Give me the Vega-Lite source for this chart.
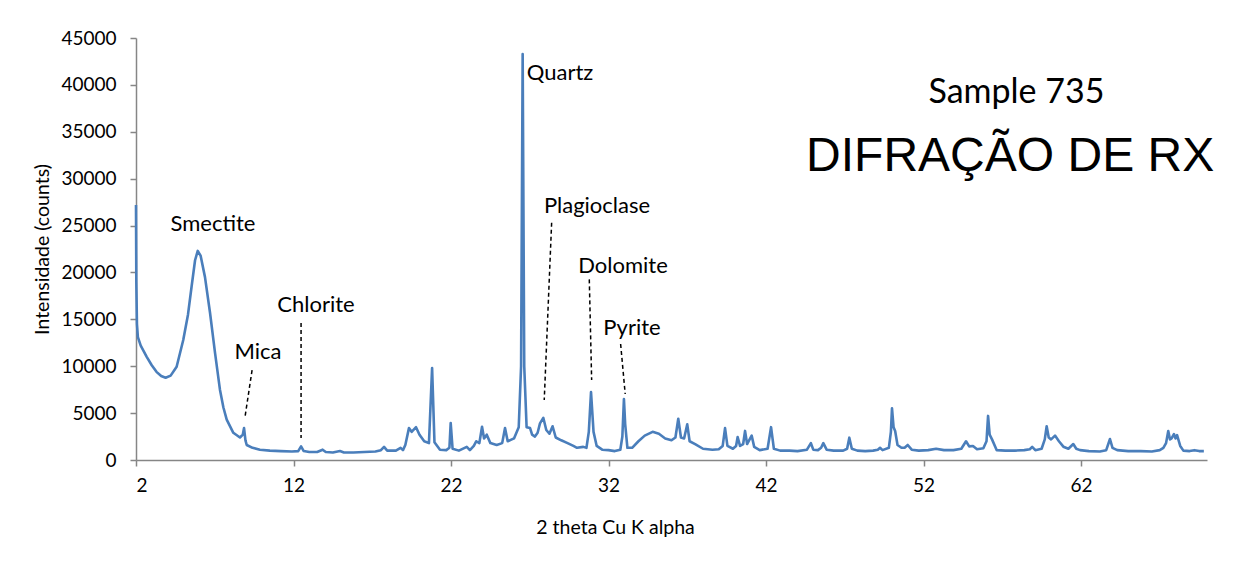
{
  "$schema": "https://vega.github.io/schema/vega-lite/v6.json",
  "width": 1071,
  "height": 422,
  "autosize": "none",
  "padding": {"left": 136, "top": 38, "right": 33, "bottom": 104},
  "background": "#ffffff",
  "config": {"view": {"stroke": null}},
  "datasets": {
    "xrd": [
      {"t":2.0,"c":27200},{"t":2.02,"c":19000},{"t":2.06,"c":14500},{"t":2.12,"c":13100},{"t":2.3,"c":12200},{"t":2.68,"c":11000},{"t":3.0,"c":10100},{"t":3.3,"c":9400},{"t":3.6,"c":8950},{"t":3.88,"c":8770},{"t":4.2,"c":9000},{"t":4.58,"c":9950},{"t":5.0,"c":12800},{"t":5.3,"c":15500},{"t":5.53,"c":18500},{"t":5.75,"c":21300},{"t":5.92,"c":22300},{"t":6.1,"c":21800},{"t":6.38,"c":19500},{"t":6.7,"c":15700},{"t":7.02,"c":11400},{"t":7.33,"c":7500},{"t":7.55,"c":5600},{"t":7.76,"c":4300},{"t":8.18,"c":2900},{"t":8.6,"c":2400},{"t":8.78,"c":2700},{"t":8.86,"c":3400},{"t":8.95,"c":2100},{"t":9.03,"c":1600},{"t":9.4,"c":1300},{"t":9.87,"c":1100},{"t":10.5,"c":1000},{"t":11.2,"c":950},{"t":11.9,"c":900},{"t":12.3,"c":950},{"t":12.48,"c":1450},{"t":12.65,"c":950},{"t":13.0,"c":850},{"t":13.5,"c":850},{"t":13.85,"c":1100},{"t":14.05,"c":850},{"t":14.5,"c":800},{"t":14.95,"c":950},{"t":15.2,"c":800},{"t":15.8,"c":800},{"t":16.5,"c":850},{"t":17.2,"c":900},{"t":17.55,"c":1050},{"t":17.75,"c":1400},{"t":17.95,"c":1000},{"t":18.5,"c":1000},{"t":18.8,"c":1300},{"t":18.95,"c":1050},{"t":19.1,"c":1600},{"t":19.33,"c":3400},{"t":19.5,"c":3000},{"t":19.78,"c":3500},{"t":20.0,"c":2700},{"t":20.3,"c":2000},{"t":20.6,"c":1800},{"t":20.8,"c":9800},{"t":20.95,"c":1900},{"t":21.3,"c":1100},{"t":21.7,"c":1050},{"t":21.9,"c":1300},{"t":21.98,"c":3950},{"t":22.1,"c":1200},{"t":22.5,"c":1000},{"t":23.0,"c":1400},{"t":23.2,"c":1050},{"t":23.45,"c":1500},{"t":23.6,"c":2000},{"t":23.8,"c":1800},{"t":23.97,"c":3550},{"t":24.1,"c":2300},{"t":24.27,"c":2700},{"t":24.5,"c":1800},{"t":24.9,"c":1600},{"t":25.25,"c":1800},{"t":25.43,"c":3400},{"t":25.6,"c":2000},{"t":26.0,"c":2300},{"t":26.3,"c":3500},{"t":26.45,"c":10000},{"t":26.55,"c":43300},{"t":26.65,"c":10000},{"t":26.8,"c":3500},{"t":27.02,"c":3400},{"t":27.15,"c":2700},{"t":27.33,"c":2500},{"t":27.5,"c":2900},{"t":27.65,"c":3900},{"t":27.86,"c":4500},{"t":28.05,"c":3200},{"t":28.25,"c":2800},{"t":28.45,"c":3600},{"t":28.65,"c":2400},{"t":29.0,"c":2100},{"t":29.4,"c":1800},{"t":29.77,"c":1500},{"t":30.0,"c":1300},{"t":30.4,"c":1400},{"t":30.6,"c":1300},{"t":30.75,"c":3000},{"t":30.89,"c":7250},{"t":31.05,"c":3000},{"t":31.25,"c":1500},{"t":31.6,"c":1100},{"t":32.0,"c":1050},{"t":32.4,"c":950},{"t":32.75,"c":1100},{"t":32.88,"c":2500},{"t":32.98,"c":6500},{"t":33.06,"c":3800},{"t":33.2,"c":1300},{"t":33.5,"c":1300},{"t":33.9,"c":2000},{"t":34.3,"c":2600},{"t":34.8,"c":3000},{"t":35.2,"c":2800},{"t":35.6,"c":2300},{"t":36.0,"c":2100},{"t":36.25,"c":2400},{"t":36.43,"c":4400},{"t":36.6,"c":2400},{"t":36.8,"c":2300},{"t":37.0,"c":3800},{"t":37.15,"c":2000},{"t":37.5,"c":1700},{"t":38.0,"c":1200},{"t":38.6,"c":1100},{"t":39.0,"c":1150},{"t":39.25,"c":1500},{"t":39.4,"c":3400},{"t":39.55,"c":1500},{"t":39.9,"c":1200},{"t":40.1,"c":1500},{"t":40.2,"c":2450},{"t":40.35,"c":1500},{"t":40.55,"c":1700},{"t":40.67,"c":3100},{"t":40.8,"c":1700},{"t":41.09,"c":2600},{"t":41.25,"c":1400},{"t":41.6,"c":1050},{"t":42.1,"c":1200},{"t":42.32,"c":3500},{"t":42.5,"c":1200},{"t":42.9,"c":1000},{"t":43.5,"c":1000},{"t":44.0,"c":950},{"t":44.6,"c":1100},{"t":44.85,"c":1800},{"t":45.0,"c":1100},{"t":45.3,"c":1050},{"t":45.5,"c":1300},{"t":45.64,"c":1800},{"t":45.85,"c":1100},{"t":46.3,"c":1000},{"t":46.9,"c":1000},{"t":47.15,"c":1200},{"t":47.29,"c":2380},{"t":47.45,"c":1200},{"t":47.8,"c":1000},{"t":48.3,"c":950},{"t":48.8,"c":1000},{"t":49.1,"c":1100},{"t":49.24,"c":1300},{"t":49.4,"c":1050},{"t":49.8,"c":1300},{"t":49.93,"c":3000},{"t":50.0,"c":5500},{"t":50.1,"c":3500},{"t":50.2,"c":3100},{"t":50.35,"c":1600},{"t":50.6,"c":1300},{"t":50.8,"c":1300},{"t":51.0,"c":1600},{"t":51.25,"c":1100},{"t":51.7,"c":1000},{"t":52.3,"c":1050},{"t":52.8,"c":1200},{"t":53.3,"c":1050},{"t":53.9,"c":1050},{"t":54.4,"c":1200},{"t":54.7,"c":2000},{"t":54.9,"c":1450},{"t":55.14,"c":1500},{"t":55.4,"c":1150},{"t":55.8,"c":1250},{"t":56.0,"c":2000},{"t":56.1,"c":4700},{"t":56.2,"c":2700},{"t":56.35,"c":2200},{"t":56.65,"c":1050},{"t":57.2,"c":1000},{"t":57.8,"c":1000},{"t":58.4,"c":1050},{"t":58.75,"c":1150},{"t":58.9,"c":1400},{"t":59.1,"c":1050},{"t":59.5,"c":1200},{"t":59.7,"c":2200},{"t":59.82,"c":3600},{"t":59.95,"c":2400},{"t":60.1,"c":2200},{"t":60.35,"c":2600},{"t":60.6,"c":2000},{"t":60.88,"c":1420},{"t":61.2,"c":1200},{"t":61.51,"c":1700},{"t":61.7,"c":1200},{"t":61.94,"c":1050},{"t":62.5,"c":950},{"t":63.2,"c":900},{"t":63.6,"c":1050},{"t":63.84,"c":2240},{"t":64.0,"c":1300},{"t":64.3,"c":1050},{"t":65.0,"c":950},{"t":65.8,"c":950},{"t":66.5,"c":900},{"t":67.0,"c":1050},{"t":67.23,"c":1300},{"t":67.4,"c":1800},{"t":67.54,"c":3090},{"t":67.65,"c":2200},{"t":67.75,"c":2300},{"t":67.9,"c":2770},{"t":68.0,"c":2300},{"t":68.1,"c":2660},{"t":68.3,"c":1500},{"t":68.5,"c":1000},{"t":68.9,"c":950},{"t":69.2,"c":1050},{"t":69.5,"c":950},{"t":69.8,"c":950}
    ],
    "labels": [
      {"name":"Smectite","t":6.89,"c":25160},
      {"name":"Mica","t":9.75,"c":11510},
      {"name":"Chlorite","t":13.43,"c":16520},
      {"name":"Quartz","t":28.92,"c":41250},
      {"name":"Plagioclase","t":31.27,"c":27080},
      {"name":"Dolomite","t":32.92,"c":20680},
      {"name":"Pyrite","t":33.49,"c":14070}
    ],
    "leaders": [
      {"name":"Mica","t":9.37,"c":9590,"t2":8.92,"c2":4580},
      {"name":"Chlorite","t":12.48,"c":14600,"t2":12.48,"c2":2350},
      {"name":"Plagioclase","t":28.39,"c":25300,"t2":27.92,"c2":6400},
      {"name":"Dolomite","t":30.78,"c":19260,"t2":30.93,"c2":8530},
      {"name":"Pyrite","t":32.77,"c":12370,"t2":33.06,"c2":7040}
    ],
    "sample": [{"txt":"Sample 735","t":57.9,"c":39120}],
    "headline": [{"txt":"DIFRAÇÃO DE RX","t":57.5,"c":32300}]
  },
  "layer": [
    {
      "data": {"name": "xrd"},
      "mark": {"type": "line", "color": "#4a7ebb", "strokeWidth": 2.6, "strokeJoin": "round"},
      "encoding": {
        "x": {
          "field": "t", "type": "quantitative",
          "scale": {"domain": [2, 70], "nice": false, "zero": false},
          "axis": {
            "values": [2, 12, 22, 32, 42, 52, 62],
            "grid": false,
            "title": "2 theta Cu K alpha",
            "titleFont": "Lato", "titleFontSize": 19.5, "titleFontWeight": "normal", "titleColor": "#000000",
            "titleX": 479, "titleY": 67, "titleBaseline": "middle", "titleAnchor": "middle", "titleAlign": "center",
            "labelFont": "Lato", "labelFontSize": 19, "labelColor": "#000000", "labelPadding": 10,
            "domainColor": "#868686", "domainWidth": 1.5, "tickColor": "#868686", "tickWidth": 1.5, "tickSize": 6
          }
        },
        "y": {
          "field": "c", "type": "quantitative",
          "scale": {"domain": [0, 45000], "nice": false},
          "axis": {
            "values": [0, 5000, 10000, 15000, 20000, 25000, 30000, 35000, 40000, 45000],
            "format": "d",
            "grid": false,
            "title": "Intensidade (counts)",
            "titleFont": "Lato", "titleFontSize": 19.5, "titleFontWeight": "normal", "titleColor": "#000000",
            "titleX": -94, "titleY": 211, "titleAngle": 270, "titleBaseline": "middle", "titleAlign": "center", "titleAnchor": "middle",
            "labelFont": "Lato", "labelFontSize": 19, "labelColor": "#000000", "labelPadding": 14,
            "domainColor": "#868686", "domainWidth": 1.5, "tickColor": "#868686", "tickWidth": 1.5, "tickSize": 6
          }
        }
      }
    },
    {
      "data": {"name": "leaders"},
      "mark": {"type": "rule", "color": "#000000", "strokeWidth": 1.5, "strokeDash": [4, 3]},
      "encoding": {
        "x": {"field": "t", "type": "quantitative"},
        "y": {"field": "c", "type": "quantitative"},
        "x2": {"field": "t2"},
        "y2": {"field": "c2"}
      }
    },
    {
      "data": {"name": "labels"},
      "mark": {"type": "text", "font": "Lato", "fontSize": 22, "color": "#000000", "align": "center", "baseline": "middle"},
      "encoding": {
        "x": {"field": "t", "type": "quantitative"},
        "y": {"field": "c", "type": "quantitative"},
        "text": {"field": "name"}
      }
    },
    {
      "data": {"name": "sample"},
      "mark": {"type": "text", "font": "Lato", "fontSize": 34, "color": "#000000", "align": "center", "baseline": "middle"},
      "encoding": {
        "x": {"field": "t", "type": "quantitative"},
        "y": {"field": "c", "type": "quantitative"},
        "text": {"field": "txt"}
      }
    },
    {
      "data": {"name": "headline"},
      "mark": {"type": "text", "font": "Liberation Sans", "fontSize": 48, "color": "#000000", "align": "center", "baseline": "middle"},
      "encoding": {
        "x": {"field": "t", "type": "quantitative"},
        "y": {"field": "c", "type": "quantitative"},
        "text": {"field": "txt"}
      }
    }
  ]
}
